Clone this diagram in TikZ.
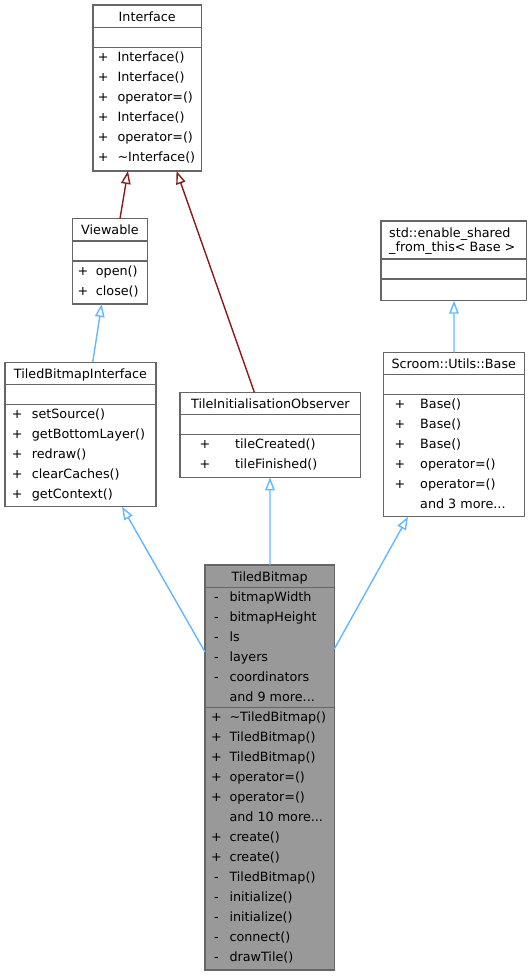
\documentclass[tikz,border=0pt]{standalone}
\usepackage{fontspec}
\setmainfont{DejaVu Sans}
\usetikzlibrary{arrows.meta,positioning}

\newcommand{\andmore}[1]{and #1 more...}

\begin{document}
\begin{tikzpicture}[x=1pt,y=-1pt,font=\fontsize{12.75}{14}\selectfont]

    \tikzstyle{class}=[draw={rgb:black,6;white,4},line width=1.2pt,anchor=north west,inner sep=0pt,outer sep=0pt]
    \tikzstyle{rule}=[draw={rgb:black,6;white,4},line width=1.2pt]
    \tikzstyle{txt}=[inner sep=0pt,text height=11pt,text depth=1.8pt,anchor=west]
    \tikzstyle{sign}=[txt,anchor=center]
    \tikzstyle{title}=[txt,anchor=center]
    \tikzstyle{inherit}=[-{Triangle[length=13pt,width=9.5pt,fill=white]},line width=1.4pt]
    \tikzstyle{public}=[inherit,color={rgb,255:red,99;green,184;blue,255}]
    \tikzstyle{private}=[inherit,color={rgb,255:red,139;green,26;blue,26}]

    \useasboundingbox (0,0) rectangle (532,976);

    % class boxes
    \node[class,minimum width=108.5pt,minimum height=166pt]   (iface)    at (93,5)       {};
    \node[class,minimum width=75.4pt,minimum height=85.5pt]   (viewable) at (72.3,218.5) {};
    \node[class,minimum width=151pt,minimum height=144.4pt]   (tbi)      at (5,362.3)    {};
    \node[class,minimum width=180.7pt,minimum height=85pt]    (tio)      at (180,392.3)  {};
    \node[class,minimum width=145.7pt,minimum height=79.7pt]  (std)      at (381,221)    {};
    \node[class,minimum width=141pt,minimum height=164.4pt]   (base)     at (383.3,352.3) {};
    \node[class,minimum width=129.3pt,minimum height=405pt,
          fill={rgb:black,4;white,6}]                         (tb)       at (205,565)    {};

    \foreach \n in {iface,viewable,tbi,tio,base} {
      \draw[rule] ([yshift=-22.5pt]\n.north west) -- ([yshift=-22.5pt]\n.north east);
      \draw[rule] ([yshift=-42.5pt]\n.north west) -- ([yshift=-42.5pt]\n.north east);
    }
    \draw[rule] ([yshift=-38pt]std.north west) -- ([yshift=-38pt]std.north east);
    \draw[rule] ([yshift=-58pt]std.north west) -- ([yshift=-58pt]std.north east);
    \draw[rule] ([yshift=-22.3pt]tb.north west) -- ([yshift=-22.3pt]tb.north east);
    \draw[rule] ([yshift=-142.3pt]tb.north west) -- ([yshift=-142.3pt]tb.north east);

    % titles
    \node[title] (iface-t)    at ([yshift=-11.7pt]iface.north)    {Interface};
    \node[title] (viewable-t) at ([yshift=-11.7pt]viewable.north) {Viewable};
    \node[title] (tbi-t)      at ([yshift=-11.7pt]tbi.north)      {TiledBitmapInterface};
    \node[title] (tio-t)      at ([yshift=-11.7pt]tio.north)      {TileInitialisationObserver};
    \node[title] (base-t)     at ([yshift=-11.7pt]base.north)     {Scroom::Utils::Base};
    \node[title] (tb-t)       at ([yshift=-11.7pt]tb.north)       {TiledBitmap};
    \node[inner sep=0pt,anchor=west,align=left] (std-t) at (389,241.3)
      {std::enable\_shared\\\_from\_this< Base >};

    % members
    \foreach \s/\m [count=\i from 0] in {+/Interface(),+/Interface(),+/operator=(),
        +/Interface(),+/operator=(),+/\textasciitilde Interface()} {
      \node[sign] (iface-s\i) at (103.3,57.3+20*\i) {\s};
      \node[txt]  (iface-m\i) at (117.3,57.3+20*\i) {\m};
    }
    \foreach \s/\m [count=\i from 0] in {+/open(),+/close()} {
      \node[sign] (viewable-s\i) at (83,270.8+20*\i) {\s};
      \node[txt]  (viewable-m\i) at (95.7,270.8+20*\i) {\m};
    }
    \foreach \s/\m [count=\i from 0] in {+/setSource(),+/getBottomLayer(),+/redraw(),
        +/clearCaches(),+/getContext()} {
      \node[sign] (tbi-s\i) at (17.3,414+20*\i) {\s};
      \node[txt]  (tbi-m\i) at (31.7,414+20*\i) {\m};
    }
    \foreach \s/\m [count=\i from 0] in {+/tileCreated(),+/tileFinished()} {
      \node[sign] (tio-s\i) at (205,443.6+20*\i) {\s};
      \node[txt]  (tio-m\i) at (235,443.6+20*\i) {\m};
    }
    \foreach \s/\m [count=\i from 0] in {+/Base(),+/Base(),+/Base(),
        +/operator=(),+/operator=(),/\andmore{3}} {
      \node[sign] (base-s\i) at (400,403.6+20*\i) {\s};
      \node[txt]  (base-m\i) at (420,403.6+20*\i) {\m};
    }
    \foreach \s/\m [count=\i from 0] in {-/bitmapWidth,-/bitmapHeight,-/ls,
        -/layers,-/coordinators,/\andmore{9}} {
      \node[sign] (tb-a\i) at (216.5,596.7+20*\i) {\s};
      \node[txt]  (tb-b\i) at (229.3,596.7+20*\i) {\m};
    }
    \foreach \s/\m [count=\i from 0] in {+/\textasciitilde TiledBitmap(),+/TiledBitmap(),
        +/TiledBitmap(),+/operator=(),+/operator=(),/\andmore{10},+/create(),+/create(),
        -/TiledBitmap(),-/initialize(),-/initialize(),-/connect(),-/drawTile()} {
      \node[sign] (tb-s\i) at (216.5,716.7+20*\i) {\s};
      \node[txt]  (tb-m\i) at (229.3,716.7+20*\i) {\m};
    }

    % inheritance
    \path[private]
    ([xshift=10pt]viewable.north) edge ([xshift=-19.3pt]iface.south)
    ([xshift=-16pt]tio.north)     edge ([xshift=29.3pt]iface.south);

    \path[public]
    ([xshift=12.2pt]tbi.north)    edge ([xshift=-8.3pt]viewable.south)
    ([yshift=-87pt]tb.north west) edge ([xshift=41.5pt]tbi.south)
    ([xshift=0.35pt]tb.north)     edge ([xshift=-0.35pt]tio.south)
    ([yshift=-84pt]tb.north east) edge ([xshift=-45.8pt]base.south)
    ([xshift=0.2pt]base.north)    edge ([xshift=0.15pt]std.south);
  \end{tikzpicture}
\end{document}
